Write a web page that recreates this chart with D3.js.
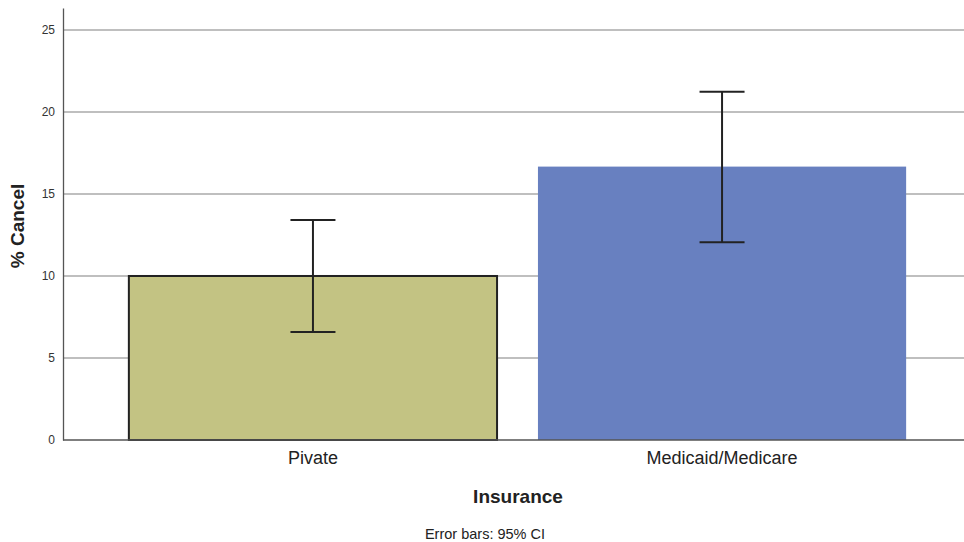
<!DOCTYPE html>
<html><head><meta charset="utf-8">
<script src="https://cdn.jsdelivr.net/npm/d3@7"></script>
<style>body{margin:0;background:#fff}svg{display:block}</style>
</head><body><svg id="c" width="964" height="542"></svg>
<script>
const categories = ["Pivate", "Medicaid/Medicare"];
const values = [10.0, 16.67];
const ciLow = [6.59, 12.05];
const ciHigh = [13.41, 21.24];
const yTicks = [0, 5, 10, 15, 20, 25];
const fills = ["#c3c383", "#6880c0"];
const strokes = ["#222", "none"];

const svg = d3.select("#c");
const font = "Liberation Sans, Arial, sans-serif";
const x = d3.scaleBand().domain(categories).range([63, 972]).paddingInner(0.1).paddingOuter(0.161);
const y = d3.scaleLinear().domain([0, 26.34]).range([440, 8]);

// gridlines
svg.append("g").selectAll("line").data(yTicks.slice(1)).join("line")
  .attr("x1", 63).attr("x2", 964).attr("y1", d => y(d)).attr("y2", d => y(d))
  .attr("stroke", "#aaa").attr("stroke-width", 1.3);

// bars
svg.append("g").selectAll("rect").data(categories).join("rect")
  .attr("x", d => x(d)).attr("width", x.bandwidth())
  .attr("y", (d, i) => y(values[i])).attr("height", (d, i) => y(0) - y(values[i]))
  .attr("fill", (d, i) => fills[i]).attr("stroke", (d, i) => strokes[i]).attr("stroke-width", 2);

// y axis
const ya = svg.append("g").attr("transform", "translate(63,0)")
  .call(d3.axisLeft(y).tickValues(yTicks).tickSize(0).tickPadding(8));
ya.select(".domain").attr("stroke", "#555").attr("stroke-width", 1.3);
ya.selectAll("text").attr("font-family", font).attr("font-size", 12).attr("fill", "#333");

// x axis
const xa = svg.append("g").attr("transform", "translate(0,440)")
  .call(d3.axisBottom(x).tickSize(0).tickPadding(11));
xa.select(".domain").remove();
svg.append("line").attr("x1", 63).attr("x2", 964).attr("y1", 440).attr("y2", 440)
  .attr("stroke", "#555").attr("stroke-width", 1.5);
xa.selectAll("text").attr("font-family", font).attr("font-size", 18).attr("fill", "#222");

// error bars
const eb = svg.append("g").attr("stroke", "#222").attr("stroke-width", 2);
categories.forEach((c, i) => {
  const cx = x(c) + x.bandwidth() / 2;
  eb.append("line").attr("x1", cx).attr("x2", cx).attr("y1", y(ciLow[i])).attr("y2", y(ciHigh[i]));
  [ciLow[i], ciHigh[i]].forEach(v => eb.append("line").attr("x1", cx - 22.5).attr("x2", cx + 22.5).attr("y1", y(v)).attr("y2", y(v)));
});

// labels
svg.append("text").attr("transform", "translate(24,226) rotate(-90)").attr("text-anchor", "middle")
  .attr("font-family", font).attr("font-size", 19).attr("font-weight", "bold").attr("fill", "#222").text("% Cancel");
svg.append("text").attr("x", 518).attr("y", 503).attr("text-anchor", "middle")
  .attr("font-family", font).attr("font-size", 19).attr("font-weight", "bold").attr("fill", "#222").text("Insurance");
svg.append("text").attr("x", 485).attr("y", 539).attr("text-anchor", "middle")
  .attr("font-family", font).attr("font-size", 14.5).attr("fill", "#222").text("Error bars: 95% CI");
</script></body></html>
